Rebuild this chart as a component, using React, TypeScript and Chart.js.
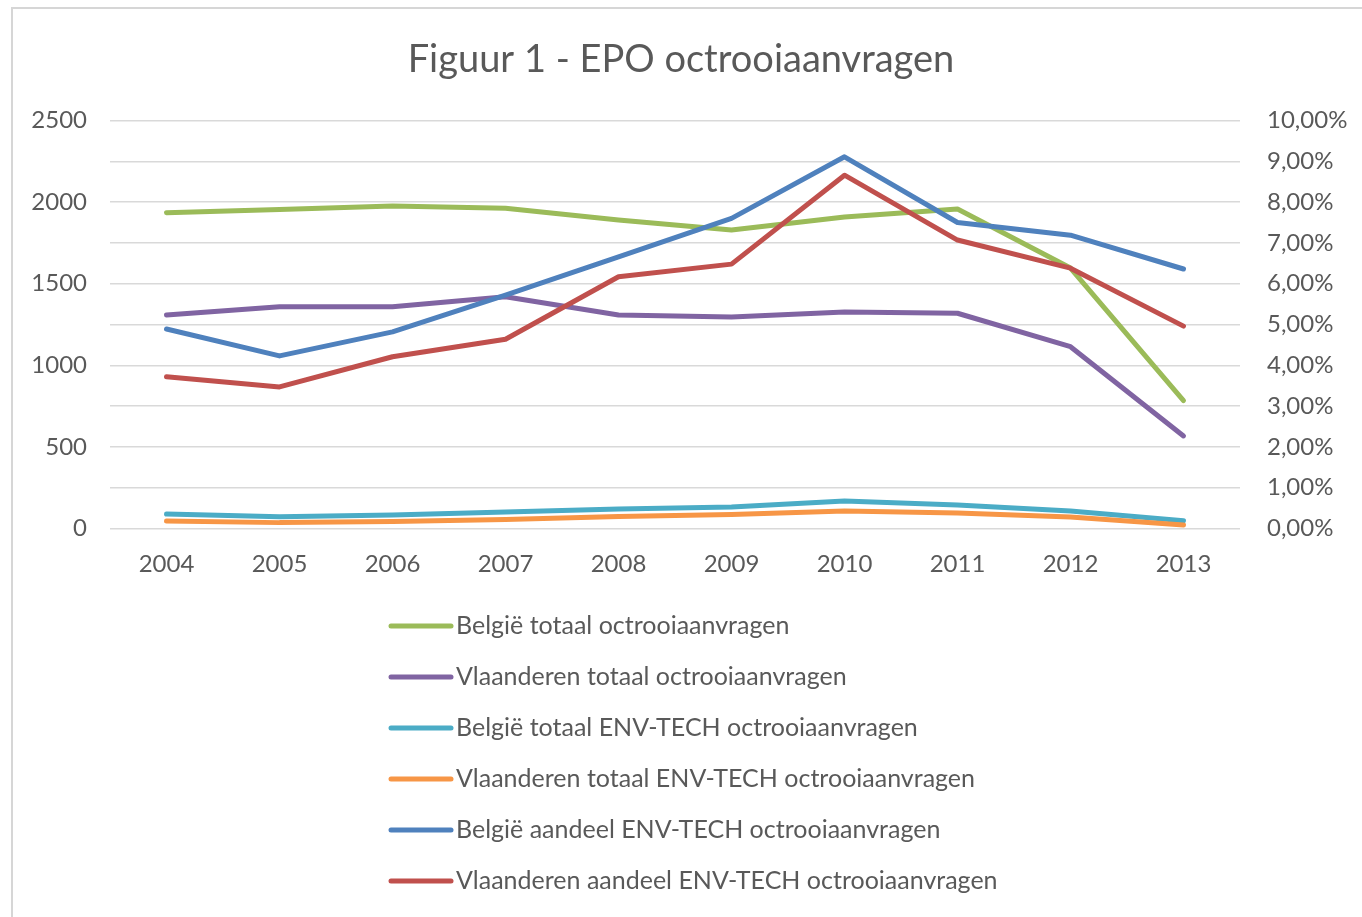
import React, { useEffect, useRef } from "react";
import { Chart, registerables } from "chart.js";

Chart.register(...registerables);

const years = ["2004", "2005", "2006", "2007", "2008", "2009", "2010", "2011", "2012", "2013"];

const belgieTotaal = [1935, 1955, 1976, 1962, 1890, 1829, 1909, 1958, 1596, 783];
const vlaanderenTotaal = [1308, 1359, 1359, 1420, 1308, 1296, 1327, 1319, 1114, 567];
const belgieEnvTech = [89, 72, 83, 101, 119, 132, 168, 144, 107, 48];
const vlaanderenEnvTech = [46, 36, 43, 55, 74, 86, 107, 95, 70, 21];
const belgieAandeel = [4.89, 4.23, 4.82, 5.72, 6.66, 7.6, 9.11, 7.5, 7.19, 6.36];
const vlaanderenAandeel = [3.72, 3.47, 4.21, 4.64, 6.17, 6.48, 8.66, 7.07, 6.38, 4.96];

const seriesLabels = [
  "België totaal octrooiaanvragen",
  "Vlaanderen totaal octrooiaanvragen",
  "België totaal ENV-TECH octrooiaanvragen",
  "Vlaanderen totaal ENV-TECH octrooiaanvragen",
  "België aandeel ENV-TECH octrooiaanvragen",
  "Vlaanderen aandeel ENV-TECH octrooiaanvragen",
];

const titleText = "Figuur 1 - EPO octrooiaanvragen";

const FONT = "Lato, 'Open Sans', sans-serif";
const TEXT = "#595959";

const legendPlugin = {
  id: "verticalLegend",
  afterDraw(chart: any) {
    const ctx = chart.ctx;
    ctx.save();
    ctx.font = `25px ${FONT}`;
    ctx.textBaseline = "middle";
    ctx.textAlign = "left";
    chart.data.datasets.forEach((ds: any, i: number) => {
      const y = 626 + i * 51;
      ctx.strokeStyle = ds.borderColor;
      ctx.lineWidth = 5;
      ctx.lineCap = "round";
      ctx.beginPath();
      ctx.moveTo(391, y);
      ctx.lineTo(451, y);
      ctx.stroke();
      ctx.fillStyle = TEXT;
      ctx.fillText(ds.label, 456, y);
    });
    ctx.restore();
  },
};

export default function App() {
  const ref = useRef<HTMLCanvasElement | null>(null);

  useEffect(() => {
    if (!ref.current) return;
    const colors = ["#9BBB59", "#8064A2", "#4BACC6", "#F79646", "#4F81BD", "#C0504D"];
    const values = [belgieTotaal, vlaanderenTotaal, belgieEnvTech, vlaanderenEnvTech, belgieAandeel, vlaanderenAandeel];
    const datasets = values.map((d, i) => ({
      label: seriesLabels[i],
      data: d,
      borderColor: colors[i],
      backgroundColor: colors[i],
      borderWidth: 5,
      pointRadius: 0,
      tension: 0,
      borderCapStyle: "round" as const,
      borderJoinStyle: "round" as const,
      yAxisID: i >= 4 ? "y1" : "y",
      order: 6 - i,
    }));

    const chart = new Chart(ref.current, {
      type: "line",
      data: { labels: years, datasets },
      plugins: [legendPlugin],
      options: {
        animation: false,
        responsive: false,
        layout: { padding: 0 },
        plugins: {
          legend: { display: false },
          tooltip: { enabled: false },
          title: {
            display: true,
            text: titleText,
            color: TEXT,
            font: { family: FONT, size: 38, weight: "normal" },
            padding: { top: 37, bottom: 37.9 },
          },
        },
        scales: {
          x: {
            offset: true,
            grid: { display: false, drawTicks: false },
            border: { display: false },
            ticks: { color: TEXT, font: { family: FONT, size: 24 }, padding: 21, maxRotation: 0 },
            afterFit: (s: any) => {
              s.height = 388.5;
            },
          },
          y: {
            position: "left",
            min: 0,
            max: 2500,
            grid: { color: "#d9d9d9", lineWidth: 1.5, drawTicks: false },
            border: { display: false },
            ticks: {
              stepSize: 250,
              color: TEXT,
              font: { family: FONT, size: 24 },
              padding: 23,
              autoSkip: false,
              callback: (v: any) => (Number(v) % 500 === 0 ? String(v) : ""),
            },
            afterFit: (s: any) => {
              s.width = 110;
            },
          },
          y1: {
            position: "right",
            min: 0,
            max: 10,
            grid: { display: false, drawTicks: false },
            border: { display: false },
            ticks: {
              stepSize: 1,
              color: TEXT,
              font: { family: FONT, size: 24 },
              padding: 27,
              autoSkip: false,
              callback: (v: any) => Number(v).toFixed(2).replace(".", ",") + "%",
            },
            afterFit: (s: any) => {
              s.width = 122;
            },
          },
        },
      },
    });
    return () => chart.destroy();
  }, []);

  return (
    <div style={{ position: "fixed", left: 0, top: 0, width: 1362, height: 917, background: "#ffffff", overflow: "hidden" }}>
      <div
        style={{
          position: "absolute",
          left: 11,
          top: 7,
          width: 1400,
          height: 1000,
          borderLeft: "2px solid #d6d6d6",
          borderTop: "2px solid #d6d6d6",
        }}
      />
      <canvas ref={ref} width={1362} height={917} style={{ position: "absolute", left: 0, top: 0 }} />
    </div>
  );
}
